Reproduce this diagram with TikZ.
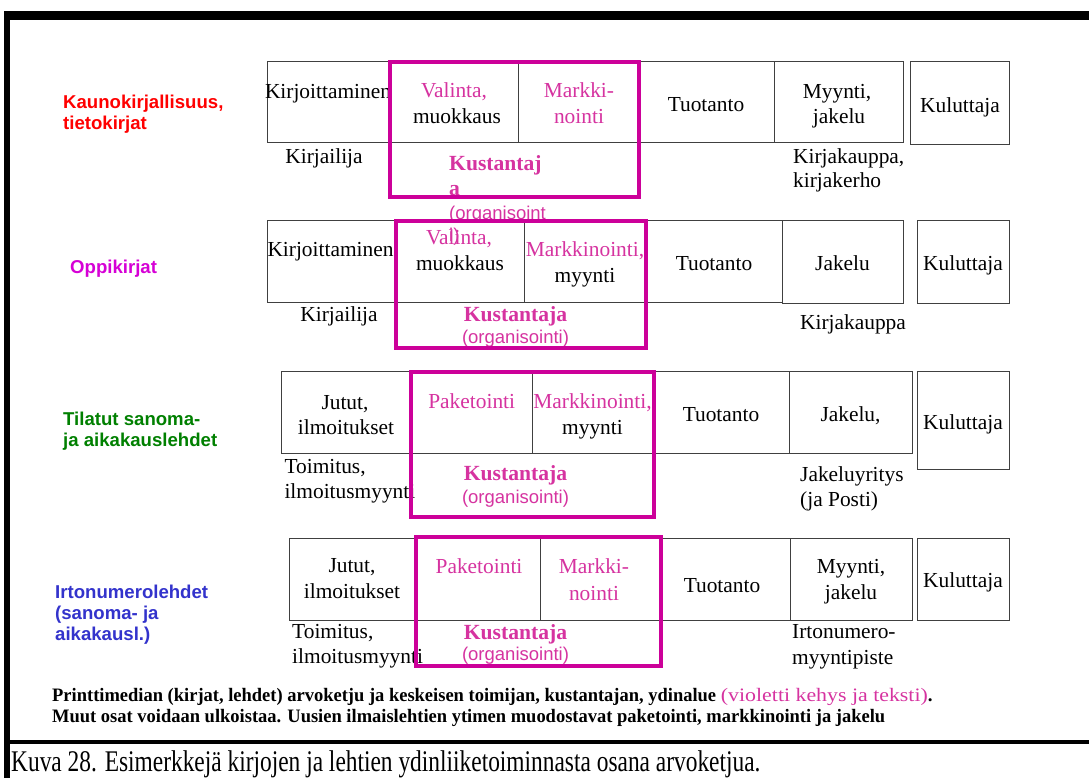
\documentclass[tikz,border=0pt]{standalone}
\usepackage{fontspec}
\setmainfont{Liberation Serif}
\newfontfamily\arialf{Liberation Sans}
\usetikzlibrary{fit}
\definecolor{frameM}{RGB}{204,0,153}
\definecolor{textM}{RGB}{214,51,160}
\definecolor{catRed}{RGB}{255,0,0}
\definecolor{catMag}{RGB}{214,0,214}
\definecolor{catGreen}{RGB}{0,128,0}
\definecolor{catBlue}{RGB}{51,51,204}
\begin{document}
\begin{tikzpicture}[x=1pt,y=-1pt,
  chainbox/.style={draw=black!75, line width=1pt, inner sep=0pt},
  core/.style={draw=frameM, line width=4pt, inner sep=0pt},
  tx/.style={anchor=base, inner sep=0pt, font=\fontsize{21.4}{25}\selectfont},
  txw/.style={tx, anchor=base west},
  txm/.style={tx, text=textM},
  kust/.style={anchor=base, inner sep=0pt, text=textM, font=\fontsize{21.6}{25}\selectfont\bfseries},
  org/.style={anchor=base, inner sep=0pt, text=textM, font=\arialf\fontsize{18.5}{22}\selectfont},
  cat/.style={anchor=base west, inner sep=0pt, font=\arialf\bfseries\fontsize{18.6}{21}\selectfont},
  note/.style={anchor=base west, inner sep=0pt, font=\fontsize{19}{22}\selectfont\bfseries},
]
\useasboundingbox (0,0) rectangle (1089,778);
\fill[white] (0,0) rectangle (1089,778);

% outer black frame and caption rule
\fill (4,11) rectangle (1089,20);
\fill (4,11) rectangle (10,778);
\fill (4,740) rectangle (1089,744);

% ---------- row 1: Kaunokirjallisuus ----------
\node[chainbox, fit={(267,62) (390,143)}] (a1) {};
\node[chainbox, fit={(390,62) (518,143)}] (a2) {};
\node[chainbox, fit={(518,62) (639,143)}] (a3) {};
\node[chainbox, fit={(639,62) (774,143)}] (a4) {};
\node[chainbox, fit={(774,62) (903,143)}] (a5) {};
\node[chainbox, fit={(910,62) (1009,145)}] (a6) {};

\node[cat, text=catRed] (ac1) at (63,108.3) {Kaunokirjallisuus,};
\node[cat, text=catRed] (ac2) at (63,129.3) {tietokirjat};

\node[tx] (a1t) at (328,98.7) {Kirjoittaminen};
\node[tx] (a1s) at (324,163.3) {Kirjailija};
\node[txm] (a2t) at (454,97.7) {Valinta,};
\node[tx] (a2u) at (457,123.3) {muokkaus};
\node[txm] (a3t) at (579,97.7) {Markki-};
\node[txm] (a3u) at (579,123.3) {nointi};
\node[tx] (a4t) at (706,112) {Tuotanto};
\node[tx] (a5t) at (837,98.3) {Myynti,};
\node[tx] (a5u) at (839,123.3) {jakelu};
\node[tx] (a6t) at (960,112.3) {Kuluttaja};
\node[txw] (a5s) at (793,163.3) {Kirjakauppa,};
\node[txw] (a5r) at (793,187.7) {kirjakerho};
\node[kust, anchor=base west] (ak1) at (449,170.7) {Kustantaj};
\node[kust, anchor=base west] (ak2) at (449,195.7) {a};
\node[org, anchor=base west] (ak3) at (449,219) {(organisoint};
\node[org, anchor=base west] (ak4) at (449,241) {i)};

% ---------- row 2: Oppikirjat ----------
\node[chainbox, fit={(267,220.7) (395.5,302.5)}] (b1) {};
\node[chainbox, fit={(395.5,220.7) (524,302.5)}] (b2) {};
\node[chainbox, fit={(524,220.7) (645.5,302.5)}] (b3) {};
\node[chainbox, fit={(645.5,220.7) (782,302.5)}] (b4) {};
\node[chainbox, fit={(782,220.7) (903,303)}] (b5) {};
\node[chainbox, fit={(917,220.7) (1009,303)}] (b6) {};

\node[cat, text=catMag] (bc1) at (70,273.3) {Oppikirjat};

\node[tx] (b1t) at (330.5,256.7) {Kirjoittaminen};
\node[tx] (b1s) at (339,321.7) {Kirjailija};
\node[txm] (b2t) at (459,244.3) {Valinta,};
\node[tx] (b2u) at (460,270) {muokkaus};
\node[txm] (b3t) at (585,256.7) {Markkinointi,};
\node[tx] (b3u) at (585,282.3) {myynti};
\node[tx] (b4t) at (714,270) {Tuotanto};
\node[tx] (b5t) at (842.5,270) {Jakelu};
\node[tx] (b6t) at (963,270) {Kuluttaja};
\node[tx] (b5s) at (853,329) {Kirjakauppa};
\node[kust] (bk1) at (515.5,321.7) {Kustantaja};
\node[org] (bk2) at (515.5,343.3) {(organisointi)};

% ---------- row 3: Tilatut sanoma- ja aikakauslehdet ----------
\node[chainbox, fit={(281,371.7) (411,453.5)}] (c1) {};
\node[chainbox, fit={(411,371.7) (532,453.5)}] (c2) {};
\node[chainbox, fit={(532,371.7) (653.5,453.5)}] (c3) {};
\node[chainbox, fit={(653.5,371.7) (789,453.5)}] (c4) {};
\node[chainbox, fit={(789,371.7) (912,453)}] (c5) {};
\node[chainbox, fit={(917,371.7) (1009,469)}] (c6) {};

\node[cat, text=catGreen] (cc1) at (63,425) {Tilatut sanoma-};
\node[cat, text=catGreen] (cc2) at (63,446) {ja aikakauslehdet};

\node[tx] (c1t) at (345,409) {Jutut,};
\node[tx] (c1u) at (346,434) {ilmoitukset};
\node[txw] (c1s) at (284.3,473.3) {Toimitus,};
\node[txw] (c1r) at (284.3,498.3) {ilmoitusmyynti};
\node[txm] (c2t) at (471.7,408.3) {Paketointi};
\node[txm] (c3t) at (592.5,408.3) {Markkinointi,};
\node[tx] (c3u) at (592.5,434) {myynti};
\node[tx] (c4t) at (721,421.7) {Tuotanto};
\node[tx] (c5t) at (850.5,421.7) {Jakelu,};
\node[tx] (c6t) at (963,429) {Kuluttaja};
\node[txw] (c5s) at (800,481.7) {Jakeluyritys};
\node[txw] (c5r) at (800,506.7) {(ja Posti)};
\node[kust] (ck1) at (515.5,480.7) {Kustantaja};
\node[org] (ck2) at (515.5,503.3) {(organisointi)};

% ---------- row 4: Irtonumerolehdet ----------
\node[chainbox, fit={(289,538) (416,620)}] (d1) {};
\node[chainbox, fit={(416,538) (540,620)}] (d2) {};
\node[chainbox, fit={(540,538) (661,620)}] (d3) {};
\node[chainbox, fit={(661,538) (790,620)}] (d4) {};
\node[chainbox, fit={(790,538) (912,620)}] (d5) {};
\node[chainbox, fit={(917,538) (1009,620)}] (d6) {};

\node[cat, text=catBlue] (dc1) at (55,598) {Irtonumerolehdet};
\node[cat, text=catBlue] (dc2) at (55,619) {(sanoma- ja};
\node[cat, text=catBlue] (dc3) at (55,640) {aikakausl.)};

\node[tx] (d1t) at (352,572) {Jutut,};
\node[tx] (d1u) at (352,598) {ilmoitukset};
\node[txw] (d1s) at (292,638) {Toimitus,};
\node[txw] (d1r) at (292,663) {ilmoitusmyynti};
\node[txm] (d2t) at (479,573) {Paketointi};
\node[txm] (d3t) at (594,573) {Markki-};
\node[txm] (d3u) at (594,600) {nointi};
\node[tx] (d4t) at (722,592) {Tuotanto};
\node[tx] (d5t) at (851,573) {Myynti,};
\node[tx] (d5u) at (851,599) {jakelu};
\node[tx] (d6t) at (963,587) {Kuluttaja};
\node[txw] (d5s) at (792,638) {Irtonumero-};
\node[txw] (d5r) at (792,664) {myyntipiste};
\node[kust] (dk1) at (515.5,639) {Kustantaja};
\node[org] (dk2) at (515.5,660) {(organisointi)};

% ---------- core area frames ----------
\node[core, fit={(390,62) (639,197)}] (coreA) {};
\node[core, fit={(395.5,221) (645.5,348)}] (coreB) {};
\node[core, fit={(411,371.5) (653.5,517)}] (coreC) {};
\node[core, fit={(416,537) (661,666)}] (coreD) {};

% ---------- notes and caption ----------
\node[note] (note1) at (52,701)
  {\scalebox{0.973}[1]{Printtimedian (kirjat, lehdet) arvoketju ja keskeisen toimijan, kustantajan, ydinalue}
   \textcolor{textM}{\mdseries\scalebox{1.15}[1]{(violetti kehys ja teksti)}}.};
\node[note] (note2) at (52,722)
  {\scalebox{0.973}[1]{Muut osat voidaan ulkoistaa. Uusien ilmaislehtien ytimen muodostavat paketointi, markkinointi ja jakelu}};
\node[anchor=base west, inner sep=0pt, font=\fontsize{30}{34}\selectfont] (cap) at (11,771)
  {\scalebox{0.78}[1]{Kuva 28. Esimerkkejä kirjojen ja lehtien ydinliiketoiminnasta osana arvoketjua.}};
\end{tikzpicture}
\end{document}
